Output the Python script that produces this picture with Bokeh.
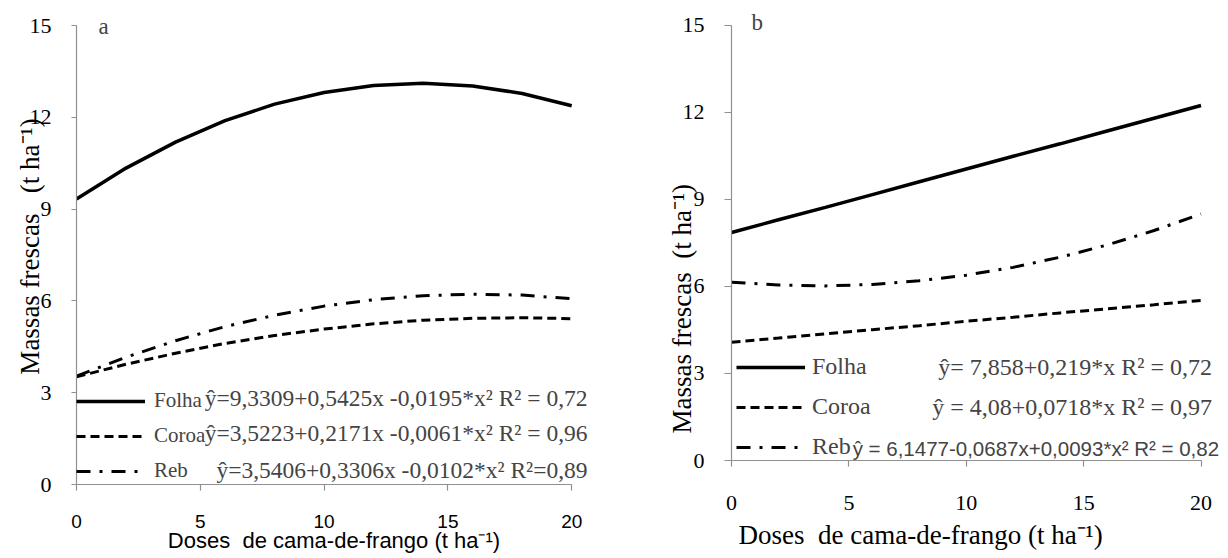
from bokeh.plotting import figure
from bokeh.models import Range1d, FixedTicker, Legend, LegendItem, Label
from bokeh.layouts import row
from bokeh.embed import file_html
from bokeh.resources import INLINE

# ---------------- data ----------------
doses = [0, 2, 4, 6, 8, 10, 12, 14, 16, 18, 20]

folha_a = [9.33, 10.34, 11.19, 11.89, 12.43, 12.81, 13.04, 13.11, 13.02, 12.78, 12.38]
coroa_a = [3.52, 3.93, 4.29, 4.61, 4.87, 5.08, 5.25, 5.37, 5.43, 5.45, 5.42]
reb_a = [3.54, 4.16, 4.70, 5.16, 5.53, 5.83, 6.04, 6.17, 6.22, 6.19, 6.07]

folha_b = [7.86, 8.30, 8.73, 9.17, 9.61, 10.05, 10.49, 10.92, 11.36, 11.80, 12.24]
coroa_b = [4.08, 4.22, 4.37, 4.51, 4.65, 4.80, 4.94, 5.09, 5.23, 5.37, 5.52]
reb_b = [6.15, 6.05, 6.02, 6.07, 6.20, 6.39, 6.66, 7.01, 7.43, 7.93, 8.50]

series_names = ["Folha", "Coroa", "Reb"]
eq_a = ["\u0177=9,3309+0,5425x -0,0195*x\u00b2 R\u00b2 = 0,72",
        "\u0177=3,5223+0,2171x -0,0061*x\u00b2 R\u00b2 = 0,96",
        "\u0177=3,5406+0,3306x -0,0102*x\u00b2 R\u00b2=0,89"]
eq_b = ["\u0177= 7,858+0,219*x R\u00b2 = 0,72",
        "\u0177 = 4,08+0,0718*x R\u00b2 = 0,97",
        "\u0177 = 6,1477-0,0687x+0,0093*x\u00b2 R\u00b2 = 0,82"]
x_ticks = [0, 5, 10, 15, 20]
y_ticks = [0, 3, 6, 9, 12, 15]
NB = "\u00a0"
ylabel_a = "Massas frescas" + NB * 3 + "(t ha\u207b\u00b9)"
ylabel_b = "Massas frescas" + NB * 2 + "(t ha\u207b\u00b9)" + NB * 22
xlabel_a = "Doses" + NB * 2 + "de cama-de-frango (t ha\u207b\u00b9)"
xlabel_b = "Doses" + NB * 2 + "de cama-de-frango (t ha\u207b\u00b9)" + NB * 17

SERIF = "Liberation Serif"
SANS = "Liberation Sans"
AXC = "#909090"

styles = [dict(line_dash="solid", line_width=3.5),
          dict(line_dash="9 5", line_width=3),
          dict(line_dash="14 9 3 9", line_width=3)]


def make_panel(width, height, xend, yend, mb_left, mb_right, mb_top, mb_bottom):
    p = figure(width=width, height=height, output_backend="svg", toolbar_location=None,
               x_range=Range1d(0, xend), y_range=Range1d(0, yend),
               min_border_left=mb_left, min_border_right=mb_right,
               min_border_top=mb_top, min_border_bottom=mb_bottom)
    p.frame_align = False
    p.outline_line_color = None
    p.xgrid.visible = False
    p.ygrid.visible = False
    for ax in (p.xaxis[0], p.yaxis[0]):
        ax.axis_line_color = AXC
        ax.axis_line_width = 1.2
        ax.major_tick_line_color = AXC
        ax.major_tick_line_width = 1.2
        ax.major_tick_in = 0
        ax.minor_tick_line_color = None
        ax.major_label_text_color = "black"
        ax.axis_label_text_color = "black"
        ax.axis_label_text_font_style = "normal"
    p.xaxis.ticker = FixedTicker(ticks=x_ticks)
    p.yaxis.ticker = FixedTicker(ticks=y_ticks)
    p.xaxis.bounds = (0, 20)
    p.yaxis.bounds = (0, 15)
    p.xaxis.major_tick_out = 6
    p.yaxis.major_label_text_font = SERIF
    p.yaxis.major_label_text_font_size = "22px"
    p.yaxis.axis_label_text_font = SERIF
    p.yaxis.axis_label_text_font_size = "27px"
    return p


def add_series(p, ys_list):
    return [p.line(doses, ys, line_color="black", **st) for ys, st in zip(ys_list, styles)]


# ---------------- panel a ----------------
pa = make_panel(614, 558, 20.8, 15.556, 76, 23, 8, 74)
pa.yaxis.major_tick_out = 5
pa.yaxis.major_label_standoff = 20
pa.yaxis.axis_label = ylabel_a
pa.yaxis.axis_label_standoff = -18
pa.xaxis.major_label_text_font = SANS
pa.xaxis.major_label_text_font_size = "19px"
pa.xaxis.major_label_standoff = 24
pa.xaxis.axis_label = xlabel_a
pa.xaxis.axis_label_text_font = SANS
pa.xaxis.axis_label_text_font_size = "22px"
pa.xaxis.axis_label_standoff = -3
ra = add_series(pa, [folha_a, coroa_a, reb_a])
leg_a = Legend(items=[LegendItem(label=n, renderers=[r]) for n, r in zip(series_names, ra)],
               location=(0, 1), padding=0, margin=0, spacing=10,
               glyph_width=69, glyph_height=20, label_height=20, label_standoff=9,
               label_text_font=SERIF, label_text_font_size="21px",
               border_line_alpha=0, background_fill_alpha=0)
pa.add_layout(leg_a)
for eq, ey in zip(eq_a, [2.84, 1.67, 0.46]):
    pa.add_layout(Label(x=20.64, y=ey, text=eq, text_font=SERIF, text_font_size="23.5px",
                        text_baseline="middle", text_align="right"))
pa.add_layout(Label(x=0.89, y=14.98, text="a", text_font=SERIF, text_font_size="23px",
                    text_baseline="middle", text_align="left"))

# ---------------- panel b ----------------
pb = make_panel(614, 558, 21.0, 15.586, 117, 4, 8, 98)
pb.yaxis.major_tick_out = 7
pb.yaxis.major_label_standoff = 20
pb.yaxis.axis_label = ylabel_b
pb.yaxis.axis_label_standoff = -17
pb.xaxis.major_label_text_font = SERIF
pb.xaxis.major_label_text_font_size = "22px"
pb.xaxis.major_label_standoff = 29
pb.xaxis.axis_label = xlabel_b
pb.xaxis.axis_label_text_font = SERIF
pb.xaxis.axis_label_text_font_size = "27px"
pb.xaxis.axis_label_standoff = 7
rb = add_series(pb, [folha_b, coroa_b, reb_b])
leg_b = Legend(items=[LegendItem(label=n, renderers=[r]) for n, r in zip(series_names, rb)],
               location=(5, 0), padding=0, margin=0, spacing=13,
               glyph_width=69, glyph_height=20, label_height=20, label_standoff=7,
               label_text_font=SERIF, label_text_font_size="24px",
               border_line_alpha=0, background_fill_alpha=0)
pb.add_layout(leg_b)
pb.add_layout(Label(x=20.47, y=3.24, text=eq_b[0], text_font=SERIF, text_font_size="24px",
                    text_baseline="middle", text_align="right"))
pb.add_layout(Label(x=20.47, y=1.83, text=eq_b[1], text_font=SERIF, text_font_size="24px",
                    text_baseline="middle", text_align="right"))
pb.add_layout(Label(x=5.16, y=0.41, text=eq_b[2], text_font=SANS, text_font_size="20.5px",
                    text_baseline="middle", text_align="left"))
pb.add_layout(Label(x=0.85, y=15.1, text="b", text_font=SERIF, text_font_size="23px",
                    text_baseline="middle", text_align="left"))

layout = row(pa, pb)
open("out.html", "w").write(file_html(layout, INLINE))
